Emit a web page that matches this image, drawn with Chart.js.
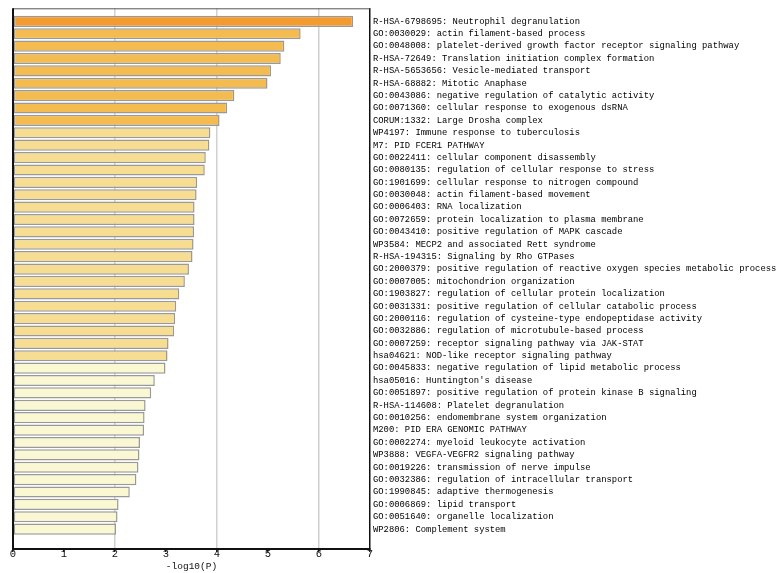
<!DOCTYPE html>
<html>
<head>
<meta charset="utf-8">
<script src="https://cdn.jsdelivr.net/npm/chart.js@4/dist/chart.umd.min.js"></script>
<style>
  html, body { margin: 0; padding: 0; background: #fff; }
  #wrap { width: 780px; height: 573px; }
</style>
</head>
<body>
<div id="wrap"><canvas id="c" width="780" height="573"></canvas></div>
<script>
// Enriched terms, top to bottom
const terms = [
  "R-HSA-6798695: Neutrophil degranulation",
  "GO:0030029: actin filament-based process",
  "GO:0048008: platelet-derived growth factor receptor signaling pathway",
  "R-HSA-72649: Translation initiation complex formation",
  "R-HSA-5653656: Vesicle-mediated transport",
  "R-HSA-68882: Mitotic Anaphase",
  "GO:0043086: negative regulation of catalytic activity",
  "GO:0071360: cellular response to exogenous dsRNA",
  "CORUM:1332: Large Drosha complex",
  "WP4197: Immune response to tuberculosis",
  "M7: PID FCER1 PATHWAY",
  "GO:0022411: cellular component disassembly",
  "GO:0080135: regulation of cellular response to stress",
  "GO:1901699: cellular response to nitrogen compound",
  "GO:0030048: actin filament-based movement",
  "GO:0006403: RNA localization",
  "GO:0072659: protein localization to plasma membrane",
  "GO:0043410: positive regulation of MAPK cascade",
  "WP3584: MECP2 and associated Rett syndrome",
  "R-HSA-194315: Signaling by Rho GTPases",
  "GO:2000379: positive regulation of reactive oxygen species metabolic process",
  "GO:0007005: mitochondrion organization",
  "GO:1903827: regulation of cellular protein localization",
  "GO:0031331: positive regulation of cellular catabolic process",
  "GO:2000116: regulation of cysteine-type endopeptidase activity",
  "GO:0032886: regulation of microtubule-based process",
  "GO:0007259: receptor signaling pathway via JAK-STAT",
  "hsa04621: NOD-like receptor signaling pathway",
  "GO:0045833: negative regulation of lipid metabolic process",
  "hsa05016: Huntington's disease",
  "GO:0051897: positive regulation of protein kinase B signaling",
  "R-HSA-114608: Platelet degranulation",
  "GO:0010256: endomembrane system organization",
  "M200: PID ERA GENOMIC PATHWAY",
  "GO:0002274: myeloid leukocyte activation",
  "WP3888: VEGFA-VEGFR2 signaling pathway",
  "GO:0019226: transmission of nerve impulse",
  "GO:0032386: regulation of intracellular transport",
  "GO:1990845: adaptive thermogenesis",
  "GO:0006869: lipid transport",
  "GO:0051640: organelle localization",
  "WP2806: Complement system"
];

// -log10(P) for each term
const logP = [
  6.67, 5.64, 5.32, 5.25, 5.06, 4.99, 4.34, 4.20, 4.05, 3.87,
  3.85, 3.78, 3.76, 3.61, 3.60, 3.56, 3.56, 3.55, 3.54, 3.52,
  3.45, 3.37, 3.26, 3.20, 3.18, 3.16, 3.05, 3.03, 2.99, 2.78,
  2.71, 2.60, 2.58, 2.57, 2.49, 2.48, 2.46, 2.42, 2.29, 2.07,
  2.05, 2.02
];

// x-axis ticks
const xTicks = [0, 1, 2, 3, 4, 5, 6, 7];

// Fill colour by significance band
function barColor(v) {
  if (v >= 6) return '#F39B2F';
  if (v >= 4) return '#F3BB50';
  if (v >= 3) return '#F6DD91';
  return '#FAF8D3';
}

// Plot frame: top edge and left edge
const framePlugin = {
  id: 'frame',
  afterDraw(chart) {
    const { ctx, chartArea: a } = chart;
    ctx.save();
    ctx.strokeStyle = '#555';
    ctx.lineWidth = 1;
    ctx.beginPath();
    ctx.moveTo(a.left, a.top + 0.5);
    ctx.lineTo(a.right, a.top + 0.5);
    ctx.stroke();
    ctx.strokeStyle = '#111';
    ctx.lineWidth = 2;
    ctx.beginPath();
    ctx.moveTo(a.left, a.top);
    ctx.lineTo(a.left, a.bottom);
    ctx.stroke();
    ctx.restore();
  }
};

const mono = "'Liberation Mono', 'DejaVu Sans Mono', monospace";

new Chart(document.getElementById('c'), {
  type: 'bar',
  data: {
    datasets: [{
      data: logP.map((v, i) => ({ x: v, y: i })),
      backgroundColor: logP.map(barColor),
      borderColor: '#999999',
      borderWidth: 1.5,
      borderSkipped: false,
      barPercentage: 0.9,
      categoryPercentage: 1
    }]
  },
  options: {
    indexAxis: 'y',
    responsive: false,
    animation: false,
    layout: { padding: { left: 13, top: 8, right: 0, bottom: 0 } },
    plugins: { legend: { display: false }, tooltip: { enabled: false } },
    scales: {
      x: {
        type: 'linear',
        position: 'bottom',
        offset: false,
        min: xTicks[0],
        max: xTicks[xTicks.length - 1],
        afterBuildTicks: s => { s.ticks = xTicks.map(v => ({ value: v })); },
        afterFit: s => { s.height = 24; },
        grid: {
          offset: false,
          color: c => (c.tick && c.tick.value > 0 && c.tick.value < 7 && c.tick.value % 2 === 0) ? '#D0D0D0' : 'rgba(0,0,0,0)',
          lineWidth: 1.5,
          drawTicks: true,
          tickLength: 3,
          tickColor: '#222'
        },
        border: { display: true, color: '#111', width: 2 },
        ticks: {
          color: '#111',
          font: { family: mono, size: 10.5 },
          padding: -4,
          maxRotation: 0
        },
        title: {
          display: true,
          text: '-log10(P)',
          color: '#111',
          font: { family: mono, size: 9.5 },
          padding: { top: 0, bottom: 1 }
        }
      },
      y: {
        type: 'linear',
        position: 'right',
        offset: false,
        reverse: true,
        min: -1.05,
        max: 42.6,
        afterBuildTicks: s => { s.ticks = terms.map((_, i) => ({ value: i })); },
        afterFit: s => { s.width = 410; },
        grid: { display: false, drawTicks: false, offset: false },
        border: { display: true, color: '#111', width: 1.5 },
        ticks: {
          autoSkip: false,
          color: '#000',
          padding: 3,
          font: { family: mono, size: 8.85 },
          callback: v => terms[v] ?? ''
        }
      }
    }
  },
  plugins: [framePlugin]
});
</script>
</body>
</html>
